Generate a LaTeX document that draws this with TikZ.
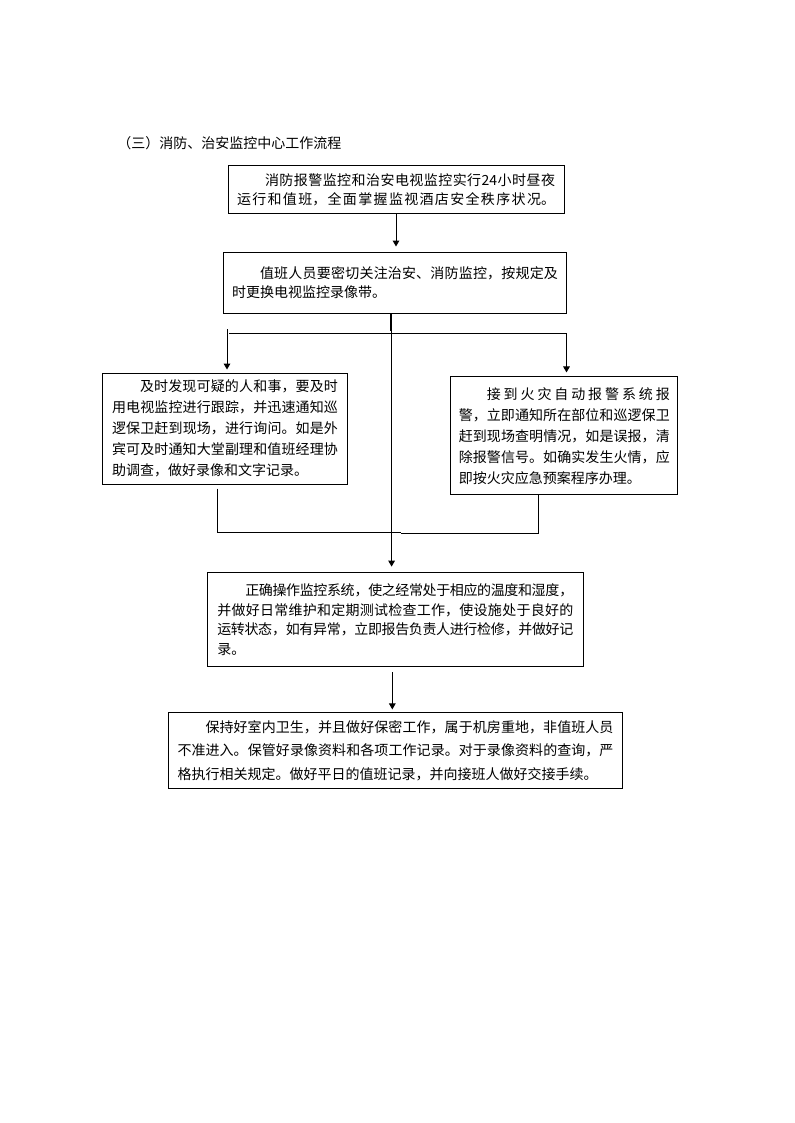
\documentclass[tikz,border=0pt]{standalone}
\usepackage{fontspec}
\setmainfont{Noto Sans CJK SC}
\usetikzlibrary{arrows.meta}
\XeTeXlinebreaklocale "zh"
\XeTeXlinebreakskip=0pt plus 4pt minus 0.5pt
\setlength\parindent{0pt}
\tolerance=2000
\begin{document}
\begin{tikzpicture}[x=0.75pt,y=-0.75pt,
  box/.style={draw,line width=0.75pt,align=justify,inner ysep=2pt},
  arr/.style={line width=0.75pt,-{Triangle[width=5pt,length=4.5pt]}},
  ln/.style={line width=0.75pt}]
\useasboundingbox (0,0) rectangle (794,1123);
\node[anchor=west,inner sep=0pt,font=\fontsize{10.5pt}{12pt}\selectfont] (title) at (117,143) {（三）消防、治安监控中心工作流程};
\node[box,font=\fontsize{10.5pt}{14.25pt}\selectfont,minimum width=252pt,minimum height=36pt,text width=238.5pt,inner xsep=6.75pt] (b1) at (396,190) {\hspace*{2em}消防报警监控和治安电视监控实行24小时昼夜\linebreak 运行和值班，全面掌握监视酒店安全秩序状况。\parfillskip=0pt\par};
\node[box,font=\fontsize{10.5pt}{14.25pt}\selectfont,minimum width=257.25pt,minimum height=45.75pt,text width=244.5pt,inner xsep=6.375pt] (b2) at (395,282.5) {\hspace*{2em}值班人员要密切关注治安、消防监控，按规定及\linebreak 时更换电视监控录像带。};
\node[box,font=\fontsize{10.5pt}{15.75pt}\selectfont,minimum width=183.45pt,minimum height=83pt,text width=169.5pt,inner xsep=6.97pt] (bL) at (225,428.7) {\hspace*{2em}及时发现可疑的人和事，要及时\linebreak 用电视监控进行跟踪，并迅速通知巡\linebreak 逻保卫赶到现场，进行询问。如是外\linebreak 宾可及时通知大堂副理和值班经理协\linebreak 助调查，做好录像和文字记录。};
\node[box,font=\fontsize{10.5pt}{15.75pt}\selectfont,minimum width=170pt,minimum height=88.7pt,text width=158.25pt,inner xsep=5.87pt] (bR) at (564.3,435.8) {\hspace*{2em}接到火灾自动报警系统报\linebreak 警，立即通知所在部位和巡逻保卫\linebreak 赶到现场查明情况，如是误报，清\linebreak 除报警信号。如确实发生火情，应\linebreak 即按火灾应急预案程序办理。};
\node[box,font=\fontsize{10.5pt}{14.6pt}\selectfont,minimum width=282pt,minimum height=70.9pt,text width=267pt,inner xsep=7.5pt] (b3) at (395.3,619.7) {\hspace*{2em}正确操作监控系统，使之经常处于相应的温度和湿度，\linebreak 并做好日常维护和定期测试检查工作，使设施处于良好的\linebreak 运转状态，如有异常，立即报告负责人进行检修，并做好记\linebreak 录。};
\node[box,font=\fontsize{10.5pt}{17.6pt}\selectfont,minimum width=340.8pt,minimum height=57.4pt,text width=327pt,inner xsep=6.9pt] (b4) at (395.5,750.7) {\hspace*{2em}保持好室内卫生，并且做好保密工作，属于机房重地，非值班人员\linebreak 不准进入。保管好录像资料和各项工作记录。对于录像资料的查询，严\linebreak 格执行相关规定。做好平日的值班记录，并向接班人做好交接手续。};
\coordinate (mx) at (391.6,0);
\coordinate (st) at (390.8,331);
\coordinate (hl) at (229,333);
\coordinate (hr) at (566.5,333);
\coordinate (la) at (227,329);
\coordinate (ml) at (217,532);
\coordinate (mm) at (401,532);
\coordinate (mr) at (538,533);
\coordinate (bx) at (392.3,0);
\draw[arr,shorten >=3.75pt] (b1.south) -- (b1.south |- b2.north);
\draw[ln] (b2.south -| st) -- (st);
\draw[ln] (hl) -- (hr);
\draw[arr,shorten >=2.8pt] (hr) -- (bR.north -| hr);
\draw[arr,shorten >=2.5pt] (la) -- (bL.north -| la);
\draw[arr,shorten >=4pt] (b2.south -| mx) -- (b3.north -| mx);
\draw[ln,shorten <=3pt] (bL.south -| ml) -- (ml) -- (mm);
\draw[ln] (mm |- mr) -- (mr) -- (bR.south -| mr);
\draw[arr,shorten <=3.5pt,shorten >=1.9pt] (b3.south -| bx) -- (b4.north -| bx);
\end{tikzpicture}
\end{document}
